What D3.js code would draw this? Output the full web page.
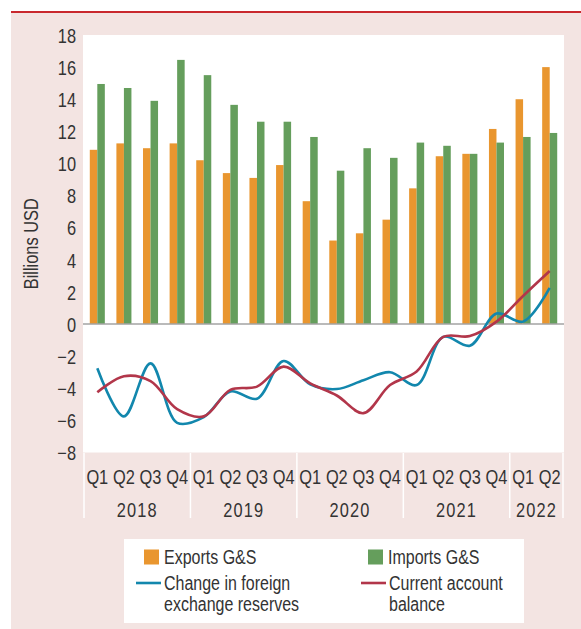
<!DOCTYPE html>
<html>
<head>
<meta charset="utf-8">
<script src="https://cdn.jsdelivr.net/npm/d3@7"></script>
<style>
  body { margin: 0; background: #fff; }
  svg text { font-family: "Liberation Sans", Arial, sans-serif; fill: #333; font-size: 20px; }
</style>
</head>
<body>
<div id="chart"></div>
<script>
// quarters, one entry per bar group
var periods = ['2018 Q1','2018 Q2','2018 Q3','2018 Q4',
               '2019 Q1','2019 Q2','2019 Q3','2019 Q4',
               '2020 Q1','2020 Q2','2020 Q3','2020 Q4',
               '2021 Q1','2021 Q2','2021 Q3','2021 Q4',
               '2022 Q1','2022 Q2'];
var years = ['2018','2019','2020','2021','2022'];
var yTicks = [-8,-6,-4,-2,0,2,4,6,8,10,12,14,16,18];

var exportsGS = [10.85,11.25,10.95,11.25,10.2,9.4,9.1,9.9,7.65,5.2,5.65,6.5,8.45,10.45,10.6,12.15,14.0,16.0];
var importsGS = [14.95,14.7,13.9,16.45,15.5,13.65,12.6,12.6,11.65,9.55,10.95,10.35,11.3,11.1,10.6,11.3,11.65,11.9];
var fxReserves = [-2.75,-5.75,-2.45,-6.15,-5.8,-4.2,-4.65,-2.3,-3.75,-4.05,-3.5,-3.0,-3.8,-0.8,-1.35,0.65,0.15,2.25];
var currentAccount = [-4.25,-3.25,-3.55,-5.3,-5.75,-4.1,-3.9,-2.65,-3.7,-4.45,-5.55,-3.8,-2.95,-0.8,-0.75,0.15,1.75,3.3];

var W = 581, H = 629;
var colors = {exp:'#e9962f', imp:'#659e5c', fx:'#1287ad', ca:'#b2364a'};
var NARROW = 0.82; // no narrow font installed, squeeze Liberation Sans instead

var svg = d3.select('#chart').append('svg')
    .attr('width', W).attr('height', H);

function label(parent, x, y, str, anchor, size) {
  return parent.append('text')
      .attr('transform', 'translate(' + x + ',' + y + ') scale(' + NARROW + ',1)')
      .attr('text-anchor', anchor || 'start').attr('dy', '0.36em')
      .style('font-size', (size || 20) + 'px')
      .text(str);
}

// background frame
svg.append('rect').attr('x', 11).attr('y', 13).attr('width', W - 11).attr('height', H - 13)
    .attr('fill', '#f3e4e2');
svg.append('line').attr('x1', 11).attr('x2', W).attr('y1', 12).attr('y2', 12)
    .attr('stroke', '#c9282e').attr('stroke-width', 2);

var x = d3.scaleBand().domain(periods).range([84, 563]);
var y = d3.scaleLinear().domain([-8, 18]).range([452.5, 35]);
var xInner = d3.scaleBand().domain(['exp','imp']).range([0, x.bandwidth()]).paddingOuter(0.77);

// plot area
svg.append('rect').attr('x', 83).attr('y', y(18)).attr('width', 564 - 83).attr('height', y(-8) - y(18))
    .attr('fill', '#fff');

// y axis
var yAxis = svg.append('g').attr('transform', 'translate(76,0)')
    .call(d3.axisLeft(y).tickValues(yTicks).tickSize(0).tickPadding(0));
yAxis.select('.domain').remove();
yAxis.selectAll('text')
    .attr('x', 0).attr('dy', '0.36em')
    .attr('transform', 'scale(' + NARROW + ',1)')
    .attr('fill', '#333')
    .style('font-family', '"Liberation Sans", Arial, sans-serif')
    .style('font-size', '20px');

svg.append('text')
    .attr('transform', 'translate(31,' + (y(18) + y(-8)) / 2 + ') rotate(-90) scale(' + NARROW + ',1)')
    .attr('text-anchor', 'middle').attr('dy', '0.36em').text('Billions USD');

// bars
var groups = svg.append('g').selectAll('g').data(periods).enter().append('g')
    .attr('transform', function(d) { return 'translate(' + x(d) + ',0)'; });
groups.append('rect')
    .attr('x', xInner('exp')).attr('width', xInner.bandwidth())
    .attr('y', function(d, i) { return y(exportsGS[i]); })
    .attr('height', function(d, i) { return y(0) - y(exportsGS[i]); })
    .attr('fill', colors.exp);
groups.append('rect')
    .attr('x', xInner('imp')).attr('width', xInner.bandwidth())
    .attr('y', function(d, i) { return y(importsGS[i]); })
    .attr('height', function(d, i) { return y(0) - y(importsGS[i]); })
    .attr('fill', colors.imp);

// zero line
svg.append('line').attr('x1', 83).attr('x2', 564).attr('y1', y(0)).attr('y2', y(0))
    .attr('stroke', '#a3a3a3').attr('stroke-width', 1.5);

// smoothed lines
var line = d3.line()
    .x(function(d, i) { return x(periods[i]) + x.bandwidth() / 2; })
    .y(function(d) { return y(d); })
    .curve(d3.curveCatmullRom.alpha(0.5));
svg.append('path').datum(fxReserves).attr('d', line)
    .attr('fill', 'none').attr('stroke', colors.fx).attr('stroke-width', 2.6);
svg.append('path').datum(currentAccount).attr('d', line)
    .attr('fill', 'none').attr('stroke', colors.ca).attr('stroke-width', 2.6);

// category axis: quarters and years
var axisTop = 453, axisBottom = 518;
var xg = svg.append('g');
periods.forEach(function(p) {
  label(xg, x(p) + x.bandwidth() / 2, 477, p.split(' ')[1], 'middle');
});

var yearSpan = years.map(function(yr) {
  var ps = periods.filter(function(p) { return p.indexOf(yr) === 0; });
  return {year: yr, x0: x(ps[0]), x1: x(ps[ps.length - 1]) + x.bandwidth()};
});
yearSpan.forEach(function(d) {
  label(xg, (d.x0 + d.x1) / 2, 510, d.year, 'middle').style('letter-spacing', '1.4px');
});

var seps = [yearSpan[0].x0].concat(yearSpan.map(function(d) { return d.x1; }));
xg.selectAll('line').data(seps).enter().append('line')
    .attr('x1', function(d) { return d; }).attr('x2', function(d) { return d; })
    .attr('y1', axisTop).attr('y2', axisBottom)
    .attr('stroke', '#fff').attr('stroke-width', 1.5);

// legend
var lg = svg.append('g');
lg.append('rect').attr('x', 124).attr('y', 539).attr('width', 400).attr('height', 84).attr('fill', '#fff');
var legendItems = [
  {type:'rect', color:colors.exp, x:144, y:557, lines:['Exports G&S']},
  {type:'rect', color:colors.imp, x:368, y:557, lines:['Imports G&S']},
  {type:'line', color:colors.fx, x:136, y:583, lines:['Change in foreign','exchange reserves']},
  {type:'line', color:colors.ca, x:361, y:583, lines:['Current account','balance']}
];
legendItems.forEach(function(it) {
  if (it.type === 'rect') {
    lg.append('rect').attr('x', it.x).attr('y', it.y - 7.5).attr('width', 15).attr('height', 15).attr('fill', it.color);
  } else {
    lg.append('line').attr('x1', it.x).attr('x2', it.x + 25).attr('y1', it.y).attr('y2', it.y)
        .attr('stroke', it.color).attr('stroke-width', 2.6);
  }
  var tx = it.type === 'rect' ? it.x + 20 : it.x + 28;
  it.lines.forEach(function(s, k) {
    label(lg, tx, it.y + k * 21, s, 'start', 19.5);
  });
});
</script>
</body>
</html>
